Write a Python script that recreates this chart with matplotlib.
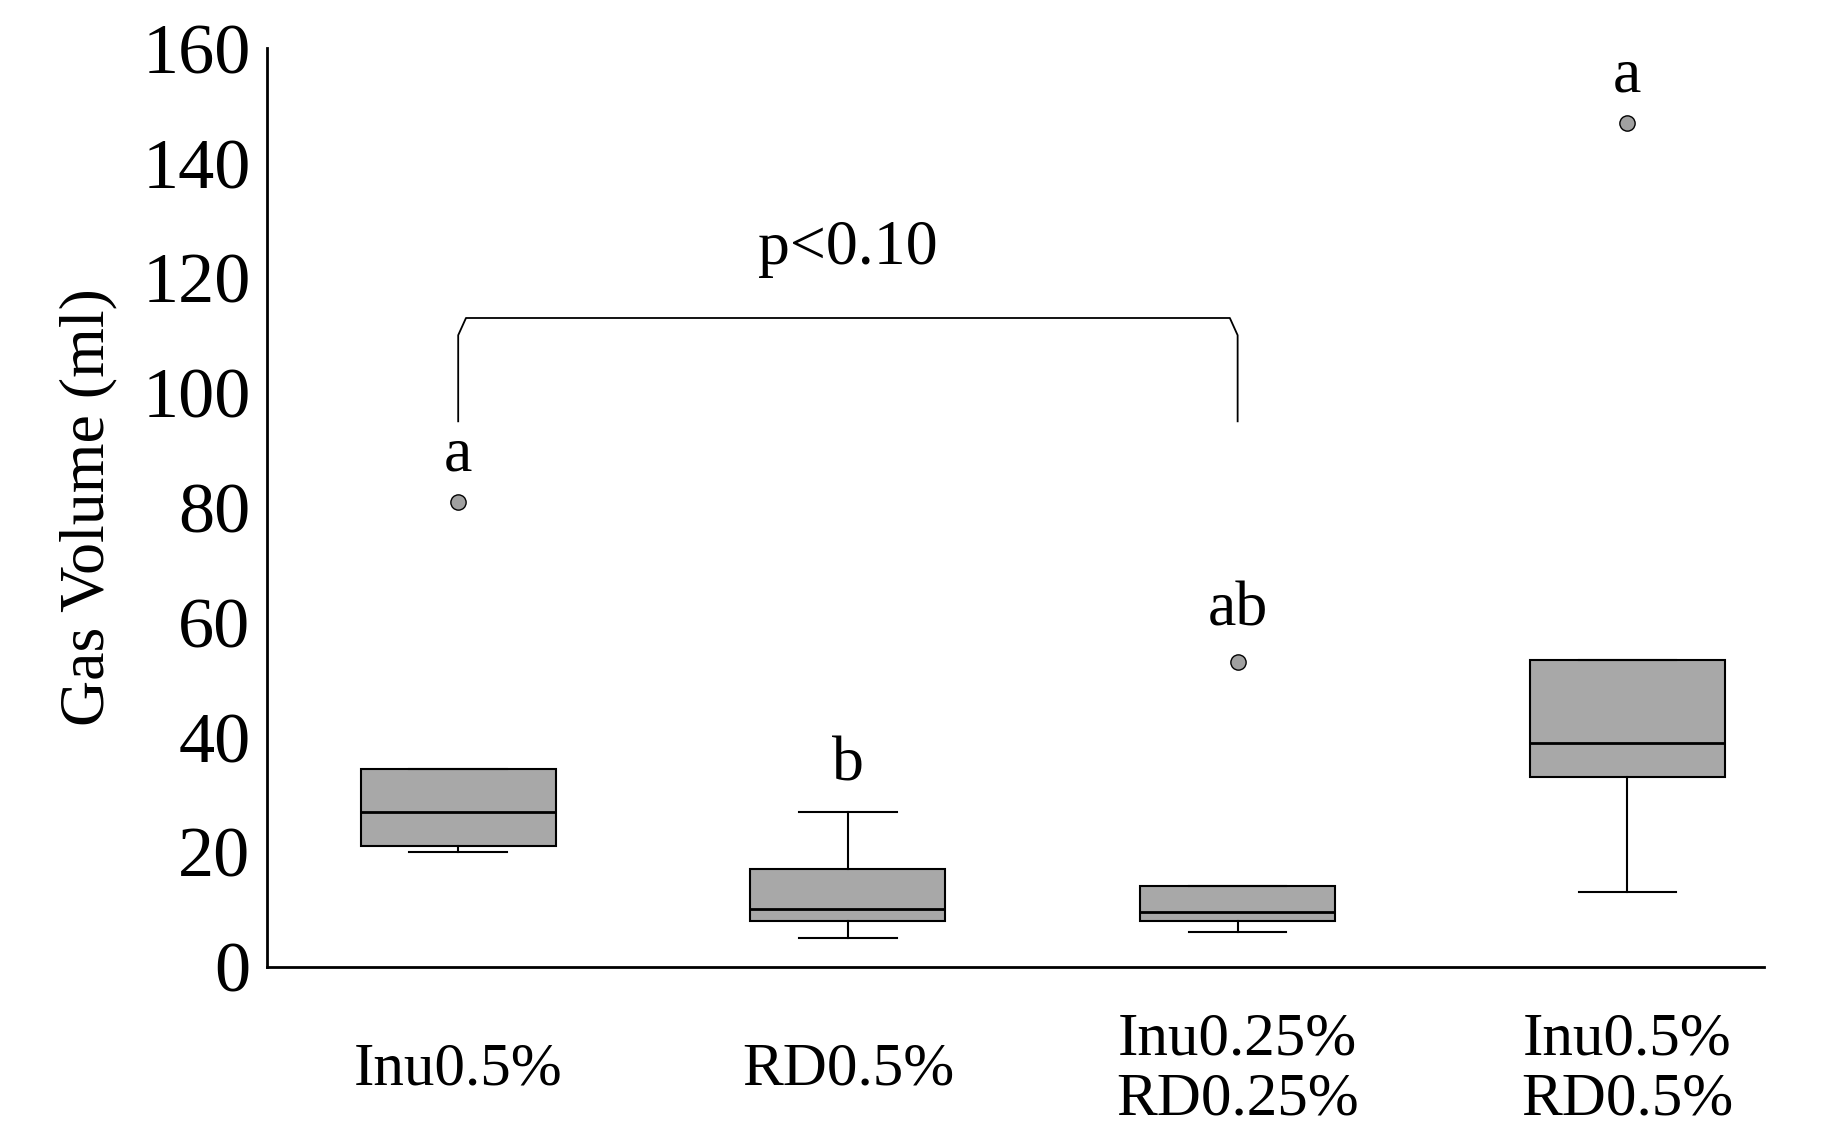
import matplotlib
matplotlib.use("Agg")
import matplotlib.pyplot as plt

labels = ["Inu0.5%", "RD0.5%", "Inu0.25%\nRD0.25%", "Inu0.5%\nRD0.5%"]
whislo = [20, 5, 6, 13]
q1 = [21, 8, 8, 33]
med = [27, 10, 9.5, 39]
q3 = [34.5, 17, 14, 53.5]
whishi = [34.5, 27, 14, 53.5]
fliers = [[81], [], [53], [147]]
letters = ["a", "b", "ab", "a"]
letter_y = [89, 35, 62, 155]

plt.rcParams['font.family'] = ['Liberation Serif', 'DejaVu Serif']
fig = plt.figure(figsize=(18.43, 11.48), dpi=100)
ax = fig.add_axes([0.145, 0.158, 0.812, 0.80])

stats = [dict(whislo=whislo[i], q1=q1[i], med=med[i], q3=q3[i], whishi=whishi[i],
              fliers=fliers[i], label="") for i in range(4)]
ax.bxp(stats, positions=[1, 2, 3, 4], widths=0.5, patch_artist=True,
       boxprops=dict(facecolor="#a8a8a8", edgecolor="black", linewidth=1.5),
       medianprops=dict(color="black", linewidth=2),
       whiskerprops=dict(color="black", linewidth=1.5),
       capprops=dict(color="black", linewidth=1.5),
       flierprops=dict(marker="o", markerfacecolor="#a0a0a0", markeredgecolor="black",
                       markersize=11))
for i, t in enumerate(letters):
    ax.text(i + 1, letter_y[i], t, ha="center", va="center", fontsize=46)
for i, t in enumerate(labels):
    ax.text(i + 1, -0.112, t, transform=ax.get_xaxis_transform(), ha="center",
            va="center", multialignment="center", fontsize=44, linespacing=1.1)

# bracket
ax.plot([1, 1, 1.02, 2.98, 3, 3], [95, 110, 113, 113, 110, 95], color="black", lw=1.3)
ax.text(2, 125, "p<0.10", ha="center", va="center", fontsize=46)

ax.set_xlim(0.51, 4.35)
ax.set_ylim(0, 160)
ax.set_xticks([])
ax.set_yticks(range(0, 161, 20))
ax.set_ylabel("Gas Volume (ml)", fontsize=46, labelpad=18)
ax.tick_params(axis="y", labelsize=52, length=0, pad=12)
for s in ["top", "right"]:
    ax.spines[s].set_visible(False)
for s in ["left", "bottom"]:
    ax.spines[s].set_linewidth(2)
fig.savefig("out.png", dpi=100, facecolor="white")
